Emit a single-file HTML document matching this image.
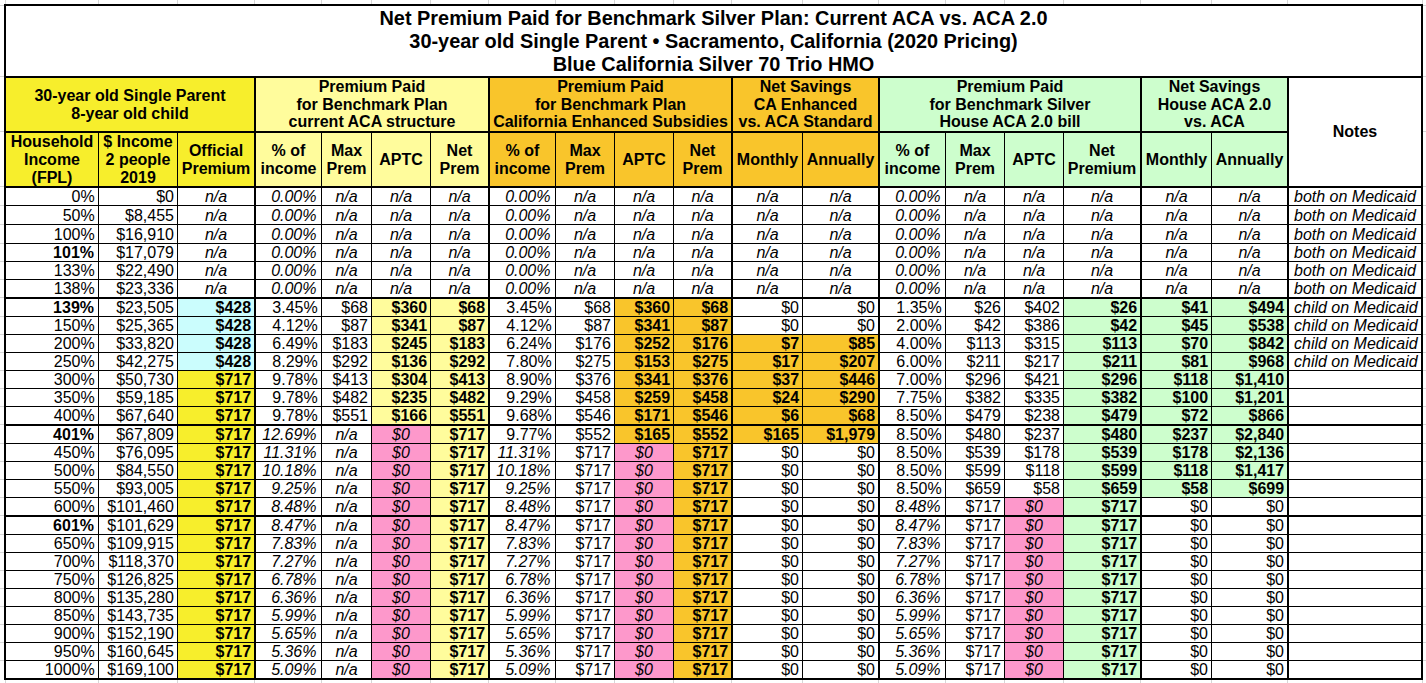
<!DOCTYPE html><html><head><meta charset="utf-8"><title>Net Premium Paid for Benchmark Silver Plan</title><style>
html,body{margin:0;padding:0;background:#fff;}
body{width:1426px;height:683px;overflow:hidden;position:relative;font-family:"Liberation Sans", Arial, sans-serif;color:#000;}
.a{position:absolute;}
.l{position:absolute;background:#000;}
.g{position:absolute;background:#d6d6d6;}
.t{position:absolute;white-space:nowrap;font-size:16px;line-height:18px;height:18px;}
.b{font-weight:bold;}.i{font-style:italic;}
.h{position:absolute;font-weight:bold;font-size:16px;line-height:18px;text-align:center;white-space:nowrap;display:flex;flex-direction:column;justify-content:center;}
</style></head><body>
<div class="g" style="left:5px;top:0;width:1px;height:4px"></div>
<div class="g" style="left:5px;top:680px;width:1px;height:3px"></div>
<div class="g" style="left:98px;top:0;width:1px;height:4px"></div>
<div class="g" style="left:98px;top:680px;width:1px;height:3px"></div>
<div class="g" style="left:177px;top:0;width:1px;height:4px"></div>
<div class="g" style="left:177px;top:680px;width:1px;height:3px"></div>
<div class="g" style="left:254px;top:0;width:1px;height:4px"></div>
<div class="g" style="left:254px;top:680px;width:1px;height:3px"></div>
<div class="g" style="left:321px;top:0;width:1px;height:4px"></div>
<div class="g" style="left:321px;top:680px;width:1px;height:3px"></div>
<div class="g" style="left:371px;top:0;width:1px;height:4px"></div>
<div class="g" style="left:371px;top:680px;width:1px;height:3px"></div>
<div class="g" style="left:430px;top:0;width:1px;height:4px"></div>
<div class="g" style="left:430px;top:680px;width:1px;height:3px"></div>
<div class="g" style="left:488px;top:0;width:1px;height:4px"></div>
<div class="g" style="left:488px;top:680px;width:1px;height:3px"></div>
<div class="g" style="left:555px;top:0;width:1px;height:4px"></div>
<div class="g" style="left:555px;top:680px;width:1px;height:3px"></div>
<div class="g" style="left:614px;top:0;width:1px;height:4px"></div>
<div class="g" style="left:614px;top:680px;width:1px;height:3px"></div>
<div class="g" style="left:673px;top:0;width:1px;height:4px"></div>
<div class="g" style="left:673px;top:680px;width:1px;height:3px"></div>
<div class="g" style="left:731px;top:0;width:1px;height:4px"></div>
<div class="g" style="left:731px;top:680px;width:1px;height:3px"></div>
<div class="g" style="left:802px;top:0;width:1px;height:4px"></div>
<div class="g" style="left:802px;top:680px;width:1px;height:3px"></div>
<div class="g" style="left:878px;top:0;width:1px;height:4px"></div>
<div class="g" style="left:878px;top:680px;width:1px;height:3px"></div>
<div class="g" style="left:945px;top:0;width:1px;height:4px"></div>
<div class="g" style="left:945px;top:680px;width:1px;height:3px"></div>
<div class="g" style="left:1004px;top:0;width:1px;height:4px"></div>
<div class="g" style="left:1004px;top:680px;width:1px;height:3px"></div>
<div class="g" style="left:1063px;top:0;width:1px;height:4px"></div>
<div class="g" style="left:1063px;top:680px;width:1px;height:3px"></div>
<div class="g" style="left:1140px;top:0;width:1px;height:4px"></div>
<div class="g" style="left:1140px;top:680px;width:1px;height:3px"></div>
<div class="g" style="left:1211px;top:0;width:1px;height:4px"></div>
<div class="g" style="left:1211px;top:680px;width:1px;height:3px"></div>
<div class="g" style="left:1287px;top:0;width:1px;height:4px"></div>
<div class="g" style="left:1287px;top:680px;width:1px;height:3px"></div>
<div class="g" style="left:1422px;top:0;width:1px;height:4px"></div>
<div class="g" style="left:1422px;top:680px;width:1px;height:3px"></div>
<div class="g" style="left:0;top:5px;width:4px;height:1px"></div>
<div class="g" style="left:1423px;top:5px;width:3px;height:1px"></div>
<div class="g" style="left:0;top:76px;width:4px;height:1px"></div>
<div class="g" style="left:1423px;top:76px;width:3px;height:1px"></div>
<div class="g" style="left:0;top:131px;width:4px;height:1px"></div>
<div class="g" style="left:1423px;top:131px;width:3px;height:1px"></div>
<div class="g" style="left:0;top:186px;width:4px;height:1px"></div>
<div class="g" style="left:1423px;top:186px;width:3px;height:1px"></div>
<div class="g" style="left:0;top:205px;width:4px;height:1px"></div>
<div class="g" style="left:1423px;top:205px;width:3px;height:1px"></div>
<div class="g" style="left:0;top:224px;width:4px;height:1px"></div>
<div class="g" style="left:1423px;top:224px;width:3px;height:1px"></div>
<div class="g" style="left:0;top:243px;width:4px;height:1px"></div>
<div class="g" style="left:1423px;top:243px;width:3px;height:1px"></div>
<div class="g" style="left:0;top:261px;width:4px;height:1px"></div>
<div class="g" style="left:1423px;top:261px;width:3px;height:1px"></div>
<div class="g" style="left:0;top:279px;width:4px;height:1px"></div>
<div class="g" style="left:1423px;top:279px;width:3px;height:1px"></div>
<div class="g" style="left:0;top:297px;width:4px;height:1px"></div>
<div class="g" style="left:1423px;top:297px;width:3px;height:1px"></div>
<div class="g" style="left:0;top:316px;width:4px;height:1px"></div>
<div class="g" style="left:1423px;top:316px;width:3px;height:1px"></div>
<div class="g" style="left:0;top:334px;width:4px;height:1px"></div>
<div class="g" style="left:1423px;top:334px;width:3px;height:1px"></div>
<div class="g" style="left:0;top:352px;width:4px;height:1px"></div>
<div class="g" style="left:1423px;top:352px;width:3px;height:1px"></div>
<div class="g" style="left:0;top:370px;width:4px;height:1px"></div>
<div class="g" style="left:1423px;top:370px;width:3px;height:1px"></div>
<div class="g" style="left:0;top:388px;width:4px;height:1px"></div>
<div class="g" style="left:1423px;top:388px;width:3px;height:1px"></div>
<div class="g" style="left:0;top:406px;width:4px;height:1px"></div>
<div class="g" style="left:1423px;top:406px;width:3px;height:1px"></div>
<div class="g" style="left:0;top:424px;width:4px;height:1px"></div>
<div class="g" style="left:1423px;top:424px;width:3px;height:1px"></div>
<div class="g" style="left:0;top:443px;width:4px;height:1px"></div>
<div class="g" style="left:1423px;top:443px;width:3px;height:1px"></div>
<div class="g" style="left:0;top:461px;width:4px;height:1px"></div>
<div class="g" style="left:1423px;top:461px;width:3px;height:1px"></div>
<div class="g" style="left:0;top:479px;width:4px;height:1px"></div>
<div class="g" style="left:1423px;top:479px;width:3px;height:1px"></div>
<div class="g" style="left:0;top:497px;width:4px;height:1px"></div>
<div class="g" style="left:1423px;top:497px;width:3px;height:1px"></div>
<div class="g" style="left:0;top:515px;width:4px;height:1px"></div>
<div class="g" style="left:1423px;top:515px;width:3px;height:1px"></div>
<div class="g" style="left:0;top:534px;width:4px;height:1px"></div>
<div class="g" style="left:1423px;top:534px;width:3px;height:1px"></div>
<div class="g" style="left:0;top:552px;width:4px;height:1px"></div>
<div class="g" style="left:1423px;top:552px;width:3px;height:1px"></div>
<div class="g" style="left:0;top:570px;width:4px;height:1px"></div>
<div class="g" style="left:1423px;top:570px;width:3px;height:1px"></div>
<div class="g" style="left:0;top:588px;width:4px;height:1px"></div>
<div class="g" style="left:1423px;top:588px;width:3px;height:1px"></div>
<div class="g" style="left:0;top:606px;width:4px;height:1px"></div>
<div class="g" style="left:1423px;top:606px;width:3px;height:1px"></div>
<div class="g" style="left:0;top:624px;width:4px;height:1px"></div>
<div class="g" style="left:1423px;top:624px;width:3px;height:1px"></div>
<div class="g" style="left:0;top:642px;width:4px;height:1px"></div>
<div class="g" style="left:1423px;top:642px;width:3px;height:1px"></div>
<div class="g" style="left:0;top:660px;width:4px;height:1px"></div>
<div class="g" style="left:1423px;top:660px;width:3px;height:1px"></div>
<div class="a" style="left:6px;top:78px;width:248px;height:53px;background:#f7ee2c"></div>
<div class="h" style="left:6px;top:78px;width:248px;height:53px;line-height:17.6px">30-year old Single Parent<br>8-year old child</div>
<div class="a" style="left:256px;top:78px;width:232px;height:53px;background:#fffc9c"></div>
<div class="h" style="left:256px;top:78px;width:232px;height:53px;line-height:17.6px">Premium Paid<br>for Benchmark Plan<br>current ACA structure</div>
<div class="a" style="left:490px;top:78px;width:241px;height:53px;background:#f9c52b"></div>
<div class="h" style="left:490px;top:78px;width:241px;height:53px;line-height:17.6px">Premium Paid<br>for Benchmark Plan<br>California Enhanced Subsidies</div>
<div class="a" style="left:733px;top:78px;width:145px;height:53px;background:#f9c52b"></div>
<div class="h" style="left:733px;top:78px;width:145px;height:53px;line-height:17.6px">Net Savings<br>CA Enhanced<br>vs. ACA Standard</div>
<div class="a" style="left:880px;top:78px;width:260px;height:53px;background:#cdfecd"></div>
<div class="h" style="left:880px;top:78px;width:260px;height:53px;line-height:17.6px">Premium Paid<br>for Benchmark Silver<br>House ACA 2.0 bill</div>
<div class="a" style="left:1142px;top:78px;width:145px;height:53px;background:#cdfecd"></div>
<div class="h" style="left:1142px;top:78px;width:145px;height:53px;line-height:17.6px">Net Savings<br>House ACA 2.0<br>vs. ACA</div>
<div class="a" style="left:6px;top:133px;width:92px;height:53px;background:#f7ee2c"></div>
<div class="h" style="left:6px;top:133px;width:92px;height:53px">Household<br>Income<br>(FPL)</div>
<div class="a" style="left:99px;top:133px;width:78px;height:53px;background:#f7ee2c"></div>
<div class="h" style="left:99px;top:133px;width:78px;height:53px">$ Income<br>2 people<br>2019</div>
<div class="a" style="left:178px;top:133px;width:76px;height:53px;background:#f7ee2c"></div>
<div class="h" style="left:178px;top:133px;width:76px;height:53px">Official<br>Premium</div>
<div class="a" style="left:256px;top:133px;width:65px;height:53px;background:#fffc9c"></div>
<div class="h" style="left:256px;top:133px;width:65px;height:53px">% of<br>income</div>
<div class="a" style="left:322px;top:133px;width:49px;height:53px;background:#fffc9c"></div>
<div class="h" style="left:322px;top:133px;width:49px;height:53px">Max<br>Prem</div>
<div class="a" style="left:372px;top:133px;width:58px;height:53px;background:#fffc9c"></div>
<div class="h" style="left:372px;top:133px;width:58px;height:53px">APTC</div>
<div class="a" style="left:431px;top:133px;width:57px;height:53px;background:#fffc9c"></div>
<div class="h" style="left:431px;top:133px;width:57px;height:53px">Net<br>Prem</div>
<div class="a" style="left:490px;top:133px;width:65px;height:53px;background:#f9c52b"></div>
<div class="h" style="left:490px;top:133px;width:65px;height:53px">% of<br>income</div>
<div class="a" style="left:556px;top:133px;width:58px;height:53px;background:#f9c52b"></div>
<div class="h" style="left:556px;top:133px;width:58px;height:53px">Max<br>Prem</div>
<div class="a" style="left:615px;top:133px;width:58px;height:53px;background:#f9c52b"></div>
<div class="h" style="left:615px;top:133px;width:58px;height:53px">APTC</div>
<div class="a" style="left:674px;top:133px;width:57px;height:53px;background:#f9c52b"></div>
<div class="h" style="left:674px;top:133px;width:57px;height:53px">Net<br>Prem</div>
<div class="a" style="left:733px;top:133px;width:69px;height:53px;background:#f9c52b"></div>
<div class="h" style="left:733px;top:133px;width:69px;height:53px">Monthly</div>
<div class="a" style="left:803px;top:133px;width:75px;height:53px;background:#f9c52b"></div>
<div class="h" style="left:803px;top:133px;width:75px;height:53px">Annually</div>
<div class="a" style="left:880px;top:133px;width:65px;height:53px;background:#cdfecd"></div>
<div class="h" style="left:880px;top:133px;width:65px;height:53px">% of<br>income</div>
<div class="a" style="left:946px;top:133px;width:58px;height:53px;background:#cdfecd"></div>
<div class="h" style="left:946px;top:133px;width:58px;height:53px">Max<br>Prem</div>
<div class="a" style="left:1005px;top:133px;width:58px;height:53px;background:#cdfecd"></div>
<div class="h" style="left:1005px;top:133px;width:58px;height:53px">APTC</div>
<div class="a" style="left:1064px;top:133px;width:76px;height:53px;background:#cdfecd"></div>
<div class="h" style="left:1064px;top:133px;width:76px;height:53px">Net<br>Premium</div>
<div class="a" style="left:1142px;top:133px;width:69px;height:53px;background:#cdfecd"></div>
<div class="h" style="left:1142px;top:133px;width:69px;height:53px">Monthly</div>
<div class="a" style="left:1212px;top:133px;width:75px;height:53px;background:#cdfecd"></div>
<div class="h" style="left:1212px;top:133px;width:75px;height:53px">Annually</div>
<div class="h" style="left:1289px;top:78px;width:132px;height:108px">Notes</div>
<div class="a" style="left:6px;top:6px;width:1415px;height:70px;font-weight:bold;font-size:19.9px;line-height:23px;text-align:center;white-space:nowrap;display:flex;flex-direction:column;justify-content:center"><div>Net Premium Paid for Benchmark Silver Plan: Current ACA vs. ACA 2.0</div><div>30-year old Single Parent &bull; Sacramento, California (2020 Pricing)</div><div>Blue California Silver 70 Trio HMO</div></div>
<div class="t" style="left:6px;top:188.0px;width:88.7px;text-align:right">0%</div>
<div class="t" style="left:99px;top:188.0px;width:75.0px;text-align:right">$0</div>
<div class="t i" style="left:178px;top:188.0px;width:76px;text-align:center">n/a</div>
<div class="t i" style="left:256px;top:188.0px;width:60.5px;text-align:right">0.00%</div>
<div class="t i" style="left:322px;top:188.0px;width:49px;text-align:center">n/a</div>
<div class="t i" style="left:372px;top:188.0px;width:58px;text-align:center">n/a</div>
<div class="t i" style="left:431px;top:188.0px;width:57px;text-align:center">n/a</div>
<div class="t i" style="left:490px;top:188.0px;width:60.5px;text-align:right">0.00%</div>
<div class="t i" style="left:556px;top:188.0px;width:58px;text-align:center">n/a</div>
<div class="t i" style="left:615px;top:188.0px;width:58px;text-align:center">n/a</div>
<div class="t i" style="left:674px;top:188.0px;width:57px;text-align:center">n/a</div>
<div class="t i" style="left:733px;top:188.0px;width:69px;text-align:center">n/a</div>
<div class="t i" style="left:803px;top:188.0px;width:75px;text-align:center">n/a</div>
<div class="t i" style="left:880px;top:188.0px;width:60.5px;text-align:right">0.00%</div>
<div class="t i" style="left:946px;top:188.0px;width:58px;text-align:center">n/a</div>
<div class="t i" style="left:1005px;top:188.0px;width:58px;text-align:center">n/a</div>
<div class="t i" style="left:1064px;top:188.0px;width:76px;text-align:center">n/a</div>
<div class="t i" style="left:1142px;top:188.0px;width:69px;text-align:center">n/a</div>
<div class="t i" style="left:1212px;top:188.0px;width:75px;text-align:center">n/a</div>
<div class="t i" style="left:1294px;top:188.0px;text-align:left">both on Medicaid</div>
<div class="t" style="left:6px;top:207.0px;width:88.7px;text-align:right">50%</div>
<div class="t" style="left:99px;top:207.0px;width:75.0px;text-align:right">$8,455</div>
<div class="t i" style="left:178px;top:207.0px;width:76px;text-align:center">n/a</div>
<div class="t i" style="left:256px;top:207.0px;width:60.5px;text-align:right">0.00%</div>
<div class="t i" style="left:322px;top:207.0px;width:49px;text-align:center">n/a</div>
<div class="t i" style="left:372px;top:207.0px;width:58px;text-align:center">n/a</div>
<div class="t i" style="left:431px;top:207.0px;width:57px;text-align:center">n/a</div>
<div class="t i" style="left:490px;top:207.0px;width:60.5px;text-align:right">0.00%</div>
<div class="t i" style="left:556px;top:207.0px;width:58px;text-align:center">n/a</div>
<div class="t i" style="left:615px;top:207.0px;width:58px;text-align:center">n/a</div>
<div class="t i" style="left:674px;top:207.0px;width:57px;text-align:center">n/a</div>
<div class="t i" style="left:733px;top:207.0px;width:69px;text-align:center">n/a</div>
<div class="t i" style="left:803px;top:207.0px;width:75px;text-align:center">n/a</div>
<div class="t i" style="left:880px;top:207.0px;width:60.5px;text-align:right">0.00%</div>
<div class="t i" style="left:946px;top:207.0px;width:58px;text-align:center">n/a</div>
<div class="t i" style="left:1005px;top:207.0px;width:58px;text-align:center">n/a</div>
<div class="t i" style="left:1064px;top:207.0px;width:76px;text-align:center">n/a</div>
<div class="t i" style="left:1142px;top:207.0px;width:69px;text-align:center">n/a</div>
<div class="t i" style="left:1212px;top:207.0px;width:75px;text-align:center">n/a</div>
<div class="t i" style="left:1294px;top:207.0px;text-align:left">both on Medicaid</div>
<div class="t" style="left:6px;top:226.0px;width:88.7px;text-align:right">100%</div>
<div class="t" style="left:99px;top:226.0px;width:75.0px;text-align:right">$16,910</div>
<div class="t i" style="left:178px;top:226.0px;width:76px;text-align:center">n/a</div>
<div class="t i" style="left:256px;top:226.0px;width:60.5px;text-align:right">0.00%</div>
<div class="t i" style="left:322px;top:226.0px;width:49px;text-align:center">n/a</div>
<div class="t i" style="left:372px;top:226.0px;width:58px;text-align:center">n/a</div>
<div class="t i" style="left:431px;top:226.0px;width:57px;text-align:center">n/a</div>
<div class="t i" style="left:490px;top:226.0px;width:60.5px;text-align:right">0.00%</div>
<div class="t i" style="left:556px;top:226.0px;width:58px;text-align:center">n/a</div>
<div class="t i" style="left:615px;top:226.0px;width:58px;text-align:center">n/a</div>
<div class="t i" style="left:674px;top:226.0px;width:57px;text-align:center">n/a</div>
<div class="t i" style="left:733px;top:226.0px;width:69px;text-align:center">n/a</div>
<div class="t i" style="left:803px;top:226.0px;width:75px;text-align:center">n/a</div>
<div class="t i" style="left:880px;top:226.0px;width:60.5px;text-align:right">0.00%</div>
<div class="t i" style="left:946px;top:226.0px;width:58px;text-align:center">n/a</div>
<div class="t i" style="left:1005px;top:226.0px;width:58px;text-align:center">n/a</div>
<div class="t i" style="left:1064px;top:226.0px;width:76px;text-align:center">n/a</div>
<div class="t i" style="left:1142px;top:226.0px;width:69px;text-align:center">n/a</div>
<div class="t i" style="left:1212px;top:226.0px;width:75px;text-align:center">n/a</div>
<div class="t i" style="left:1294px;top:226.0px;text-align:left">both on Medicaid</div>
<div class="t b" style="left:6px;top:244.0px;width:88.0px;text-align:right">101%</div>
<div class="t" style="left:99px;top:244.0px;width:75.0px;text-align:right">$17,079</div>
<div class="t i" style="left:178px;top:244.0px;width:76px;text-align:center">n/a</div>
<div class="t i" style="left:256px;top:244.0px;width:60.5px;text-align:right">0.00%</div>
<div class="t i" style="left:322px;top:244.0px;width:49px;text-align:center">n/a</div>
<div class="t i" style="left:372px;top:244.0px;width:58px;text-align:center">n/a</div>
<div class="t i" style="left:431px;top:244.0px;width:57px;text-align:center">n/a</div>
<div class="t i" style="left:490px;top:244.0px;width:60.5px;text-align:right">0.00%</div>
<div class="t i" style="left:556px;top:244.0px;width:58px;text-align:center">n/a</div>
<div class="t i" style="left:615px;top:244.0px;width:58px;text-align:center">n/a</div>
<div class="t i" style="left:674px;top:244.0px;width:57px;text-align:center">n/a</div>
<div class="t i" style="left:733px;top:244.0px;width:69px;text-align:center">n/a</div>
<div class="t i" style="left:803px;top:244.0px;width:75px;text-align:center">n/a</div>
<div class="t i" style="left:880px;top:244.0px;width:60.5px;text-align:right">0.00%</div>
<div class="t i" style="left:946px;top:244.0px;width:58px;text-align:center">n/a</div>
<div class="t i" style="left:1005px;top:244.0px;width:58px;text-align:center">n/a</div>
<div class="t i" style="left:1064px;top:244.0px;width:76px;text-align:center">n/a</div>
<div class="t i" style="left:1142px;top:244.0px;width:69px;text-align:center">n/a</div>
<div class="t i" style="left:1212px;top:244.0px;width:75px;text-align:center">n/a</div>
<div class="t i" style="left:1294px;top:244.0px;text-align:left">both on Medicaid</div>
<div class="t" style="left:6px;top:262.0px;width:88.7px;text-align:right">133%</div>
<div class="t" style="left:99px;top:262.0px;width:75.0px;text-align:right">$22,490</div>
<div class="t i" style="left:178px;top:262.0px;width:76px;text-align:center">n/a</div>
<div class="t i" style="left:256px;top:262.0px;width:60.5px;text-align:right">0.00%</div>
<div class="t i" style="left:322px;top:262.0px;width:49px;text-align:center">n/a</div>
<div class="t i" style="left:372px;top:262.0px;width:58px;text-align:center">n/a</div>
<div class="t i" style="left:431px;top:262.0px;width:57px;text-align:center">n/a</div>
<div class="t i" style="left:490px;top:262.0px;width:60.5px;text-align:right">0.00%</div>
<div class="t i" style="left:556px;top:262.0px;width:58px;text-align:center">n/a</div>
<div class="t i" style="left:615px;top:262.0px;width:58px;text-align:center">n/a</div>
<div class="t i" style="left:674px;top:262.0px;width:57px;text-align:center">n/a</div>
<div class="t i" style="left:733px;top:262.0px;width:69px;text-align:center">n/a</div>
<div class="t i" style="left:803px;top:262.0px;width:75px;text-align:center">n/a</div>
<div class="t i" style="left:880px;top:262.0px;width:60.5px;text-align:right">0.00%</div>
<div class="t i" style="left:946px;top:262.0px;width:58px;text-align:center">n/a</div>
<div class="t i" style="left:1005px;top:262.0px;width:58px;text-align:center">n/a</div>
<div class="t i" style="left:1064px;top:262.0px;width:76px;text-align:center">n/a</div>
<div class="t i" style="left:1142px;top:262.0px;width:69px;text-align:center">n/a</div>
<div class="t i" style="left:1212px;top:262.0px;width:75px;text-align:center">n/a</div>
<div class="t i" style="left:1294px;top:262.0px;text-align:left">both on Medicaid</div>
<div class="t" style="left:6px;top:280.0px;width:88.7px;text-align:right">138%</div>
<div class="t" style="left:99px;top:280.0px;width:75.0px;text-align:right">$23,336</div>
<div class="t i" style="left:178px;top:280.0px;width:76px;text-align:center">n/a</div>
<div class="t i" style="left:256px;top:280.0px;width:60.5px;text-align:right">0.00%</div>
<div class="t i" style="left:322px;top:280.0px;width:49px;text-align:center">n/a</div>
<div class="t i" style="left:372px;top:280.0px;width:58px;text-align:center">n/a</div>
<div class="t i" style="left:431px;top:280.0px;width:57px;text-align:center">n/a</div>
<div class="t i" style="left:490px;top:280.0px;width:60.5px;text-align:right">0.00%</div>
<div class="t i" style="left:556px;top:280.0px;width:58px;text-align:center">n/a</div>
<div class="t i" style="left:615px;top:280.0px;width:58px;text-align:center">n/a</div>
<div class="t i" style="left:674px;top:280.0px;width:57px;text-align:center">n/a</div>
<div class="t i" style="left:733px;top:280.0px;width:69px;text-align:center">n/a</div>
<div class="t i" style="left:803px;top:280.0px;width:75px;text-align:center">n/a</div>
<div class="t i" style="left:880px;top:280.0px;width:60.5px;text-align:right">0.00%</div>
<div class="t i" style="left:946px;top:280.0px;width:58px;text-align:center">n/a</div>
<div class="t i" style="left:1005px;top:280.0px;width:58px;text-align:center">n/a</div>
<div class="t i" style="left:1064px;top:280.0px;width:76px;text-align:center">n/a</div>
<div class="t i" style="left:1142px;top:280.0px;width:69px;text-align:center">n/a</div>
<div class="t i" style="left:1212px;top:280.0px;width:75px;text-align:center">n/a</div>
<div class="t i" style="left:1294px;top:280.0px;text-align:left">both on Medicaid</div>
<div class="t b" style="left:6px;top:299.0px;width:88.0px;text-align:right">139%</div>
<div class="t" style="left:99px;top:299.0px;width:75.0px;text-align:right">$23,505</div>
<div class="a" style="left:178px;top:299px;width:76px;height:17px;background:#cbfdfd"></div>
<div class="t b" style="left:178px;top:299.0px;width:73.1px;text-align:right">$428</div>
<div class="t" style="left:256px;top:299.0px;width:61.7px;text-align:right">3.45%</div>
<div class="t" style="left:322px;top:299.0px;width:46.0px;text-align:right">$68</div>
<div class="a" style="left:372px;top:299px;width:58px;height:17px;background:#fffc9c"></div>
<div class="t b" style="left:372px;top:299.0px;width:55.1px;text-align:right">$360</div>
<div class="a" style="left:431px;top:299px;width:57px;height:17px;background:#fffc9c"></div>
<div class="t b" style="left:431px;top:299.0px;width:54.1px;text-align:right">$68</div>
<div class="t" style="left:490px;top:299.0px;width:61.7px;text-align:right">3.45%</div>
<div class="t" style="left:556px;top:299.0px;width:55.0px;text-align:right">$68</div>
<div class="a" style="left:615px;top:299px;width:58px;height:17px;background:#f9c52b"></div>
<div class="t b" style="left:615px;top:299.0px;width:55.1px;text-align:right">$360</div>
<div class="a" style="left:674px;top:299px;width:57px;height:17px;background:#f9c52b"></div>
<div class="t b" style="left:674px;top:299.0px;width:54.1px;text-align:right">$68</div>
<div class="t" style="left:733px;top:299.0px;width:66.0px;text-align:right">$0</div>
<div class="t" style="left:803px;top:299.0px;width:72.0px;text-align:right">$0</div>
<div class="t" style="left:880px;top:299.0px;width:61.7px;text-align:right">1.35%</div>
<div class="t" style="left:946px;top:299.0px;width:55.0px;text-align:right">$26</div>
<div class="t" style="left:1005px;top:299.0px;width:55.0px;text-align:right">$402</div>
<div class="a" style="left:1064px;top:299px;width:76px;height:17px;background:#cdfecd"></div>
<div class="t b" style="left:1064px;top:299.0px;width:73.1px;text-align:right">$26</div>
<div class="a" style="left:1142px;top:299px;width:69px;height:17px;background:#cdfecd"></div>
<div class="t b" style="left:1142px;top:299.0px;width:66.1px;text-align:right">$41</div>
<div class="a" style="left:1212px;top:299px;width:75px;height:17px;background:#cdfecd"></div>
<div class="t b" style="left:1212px;top:299.0px;width:72.1px;text-align:right">$494</div>
<div class="t i" style="left:1294px;top:299.0px;text-align:left">child on Medicaid</div>
<div class="t" style="left:6px;top:317.0px;width:88.7px;text-align:right">150%</div>
<div class="t" style="left:99px;top:317.0px;width:75.0px;text-align:right">$25,365</div>
<div class="a" style="left:178px;top:317px;width:76px;height:17px;background:#cbfdfd"></div>
<div class="t b" style="left:178px;top:317.0px;width:73.1px;text-align:right">$428</div>
<div class="t" style="left:256px;top:317.0px;width:61.7px;text-align:right">4.12%</div>
<div class="t" style="left:322px;top:317.0px;width:46.0px;text-align:right">$87</div>
<div class="a" style="left:372px;top:317px;width:58px;height:17px;background:#fffc9c"></div>
<div class="t b" style="left:372px;top:317.0px;width:55.1px;text-align:right">$341</div>
<div class="a" style="left:431px;top:317px;width:57px;height:17px;background:#fffc9c"></div>
<div class="t b" style="left:431px;top:317.0px;width:54.1px;text-align:right">$87</div>
<div class="t" style="left:490px;top:317.0px;width:61.7px;text-align:right">4.12%</div>
<div class="t" style="left:556px;top:317.0px;width:55.0px;text-align:right">$87</div>
<div class="a" style="left:615px;top:317px;width:58px;height:17px;background:#f9c52b"></div>
<div class="t b" style="left:615px;top:317.0px;width:55.1px;text-align:right">$341</div>
<div class="a" style="left:674px;top:317px;width:57px;height:17px;background:#f9c52b"></div>
<div class="t b" style="left:674px;top:317.0px;width:54.1px;text-align:right">$87</div>
<div class="t" style="left:733px;top:317.0px;width:66.0px;text-align:right">$0</div>
<div class="t" style="left:803px;top:317.0px;width:72.0px;text-align:right">$0</div>
<div class="t" style="left:880px;top:317.0px;width:61.7px;text-align:right">2.00%</div>
<div class="t" style="left:946px;top:317.0px;width:55.0px;text-align:right">$42</div>
<div class="t" style="left:1005px;top:317.0px;width:55.0px;text-align:right">$386</div>
<div class="a" style="left:1064px;top:317px;width:76px;height:17px;background:#cdfecd"></div>
<div class="t b" style="left:1064px;top:317.0px;width:73.1px;text-align:right">$42</div>
<div class="a" style="left:1142px;top:317px;width:69px;height:17px;background:#cdfecd"></div>
<div class="t b" style="left:1142px;top:317.0px;width:66.1px;text-align:right">$45</div>
<div class="a" style="left:1212px;top:317px;width:75px;height:17px;background:#cdfecd"></div>
<div class="t b" style="left:1212px;top:317.0px;width:72.1px;text-align:right">$538</div>
<div class="t i" style="left:1294px;top:317.0px;text-align:left">child on Medicaid</div>
<div class="t" style="left:6px;top:335.0px;width:88.7px;text-align:right">200%</div>
<div class="t" style="left:99px;top:335.0px;width:75.0px;text-align:right">$33,820</div>
<div class="a" style="left:178px;top:335px;width:76px;height:17px;background:#cbfdfd"></div>
<div class="t b" style="left:178px;top:335.0px;width:73.1px;text-align:right">$428</div>
<div class="t" style="left:256px;top:335.0px;width:61.7px;text-align:right">6.49%</div>
<div class="t" style="left:322px;top:335.0px;width:46.0px;text-align:right">$183</div>
<div class="a" style="left:372px;top:335px;width:58px;height:17px;background:#fffc9c"></div>
<div class="t b" style="left:372px;top:335.0px;width:55.1px;text-align:right">$245</div>
<div class="a" style="left:431px;top:335px;width:57px;height:17px;background:#fffc9c"></div>
<div class="t b" style="left:431px;top:335.0px;width:54.1px;text-align:right">$183</div>
<div class="t" style="left:490px;top:335.0px;width:61.7px;text-align:right">6.24%</div>
<div class="t" style="left:556px;top:335.0px;width:55.0px;text-align:right">$176</div>
<div class="a" style="left:615px;top:335px;width:58px;height:17px;background:#f9c52b"></div>
<div class="t b" style="left:615px;top:335.0px;width:55.1px;text-align:right">$252</div>
<div class="a" style="left:674px;top:335px;width:57px;height:17px;background:#f9c52b"></div>
<div class="t b" style="left:674px;top:335.0px;width:54.1px;text-align:right">$176</div>
<div class="a" style="left:733px;top:335px;width:69px;height:17px;background:#f9c52b"></div>
<div class="t b" style="left:733px;top:335.0px;width:66.1px;text-align:right">$7</div>
<div class="a" style="left:803px;top:335px;width:75px;height:17px;background:#f9c52b"></div>
<div class="t b" style="left:803px;top:335.0px;width:72.1px;text-align:right">$85</div>
<div class="t" style="left:880px;top:335.0px;width:61.7px;text-align:right">4.00%</div>
<div class="t" style="left:946px;top:335.0px;width:55.0px;text-align:right">$113</div>
<div class="t" style="left:1005px;top:335.0px;width:55.0px;text-align:right">$315</div>
<div class="a" style="left:1064px;top:335px;width:76px;height:17px;background:#cdfecd"></div>
<div class="t b" style="left:1064px;top:335.0px;width:73.1px;text-align:right">$113</div>
<div class="a" style="left:1142px;top:335px;width:69px;height:17px;background:#cdfecd"></div>
<div class="t b" style="left:1142px;top:335.0px;width:66.1px;text-align:right">$70</div>
<div class="a" style="left:1212px;top:335px;width:75px;height:17px;background:#cdfecd"></div>
<div class="t b" style="left:1212px;top:335.0px;width:72.1px;text-align:right">$842</div>
<div class="t i" style="left:1294px;top:335.0px;text-align:left">child on Medicaid</div>
<div class="t" style="left:6px;top:353.0px;width:88.7px;text-align:right">250%</div>
<div class="t" style="left:99px;top:353.0px;width:75.0px;text-align:right">$42,275</div>
<div class="a" style="left:178px;top:353px;width:76px;height:17px;background:#cbfdfd"></div>
<div class="t b" style="left:178px;top:353.0px;width:73.1px;text-align:right">$428</div>
<div class="t" style="left:256px;top:353.0px;width:61.7px;text-align:right">8.29%</div>
<div class="t" style="left:322px;top:353.0px;width:46.0px;text-align:right">$292</div>
<div class="a" style="left:372px;top:353px;width:58px;height:17px;background:#fffc9c"></div>
<div class="t b" style="left:372px;top:353.0px;width:55.1px;text-align:right">$136</div>
<div class="a" style="left:431px;top:353px;width:57px;height:17px;background:#fffc9c"></div>
<div class="t b" style="left:431px;top:353.0px;width:54.1px;text-align:right">$292</div>
<div class="t" style="left:490px;top:353.0px;width:61.7px;text-align:right">7.80%</div>
<div class="t" style="left:556px;top:353.0px;width:55.0px;text-align:right">$275</div>
<div class="a" style="left:615px;top:353px;width:58px;height:17px;background:#f9c52b"></div>
<div class="t b" style="left:615px;top:353.0px;width:55.1px;text-align:right">$153</div>
<div class="a" style="left:674px;top:353px;width:57px;height:17px;background:#f9c52b"></div>
<div class="t b" style="left:674px;top:353.0px;width:54.1px;text-align:right">$275</div>
<div class="a" style="left:733px;top:353px;width:69px;height:17px;background:#f9c52b"></div>
<div class="t b" style="left:733px;top:353.0px;width:66.1px;text-align:right">$17</div>
<div class="a" style="left:803px;top:353px;width:75px;height:17px;background:#f9c52b"></div>
<div class="t b" style="left:803px;top:353.0px;width:72.1px;text-align:right">$207</div>
<div class="t" style="left:880px;top:353.0px;width:61.7px;text-align:right">6.00%</div>
<div class="t" style="left:946px;top:353.0px;width:55.0px;text-align:right">$211</div>
<div class="t" style="left:1005px;top:353.0px;width:55.0px;text-align:right">$217</div>
<div class="a" style="left:1064px;top:353px;width:76px;height:17px;background:#cdfecd"></div>
<div class="t b" style="left:1064px;top:353.0px;width:73.1px;text-align:right">$211</div>
<div class="a" style="left:1142px;top:353px;width:69px;height:17px;background:#cdfecd"></div>
<div class="t b" style="left:1142px;top:353.0px;width:66.1px;text-align:right">$81</div>
<div class="a" style="left:1212px;top:353px;width:75px;height:17px;background:#cdfecd"></div>
<div class="t b" style="left:1212px;top:353.0px;width:72.1px;text-align:right">$968</div>
<div class="t i" style="left:1294px;top:353.0px;text-align:left">child on Medicaid</div>
<div class="t" style="left:6px;top:371.0px;width:88.7px;text-align:right">300%</div>
<div class="t" style="left:99px;top:371.0px;width:75.0px;text-align:right">$50,730</div>
<div class="a" style="left:178px;top:371px;width:76px;height:17px;background:#f7ee2c"></div>
<div class="t b" style="left:178px;top:371.0px;width:73.1px;text-align:right">$717</div>
<div class="t" style="left:256px;top:371.0px;width:61.7px;text-align:right">9.78%</div>
<div class="t" style="left:322px;top:371.0px;width:46.0px;text-align:right">$413</div>
<div class="a" style="left:372px;top:371px;width:58px;height:17px;background:#fffc9c"></div>
<div class="t b" style="left:372px;top:371.0px;width:55.1px;text-align:right">$304</div>
<div class="a" style="left:431px;top:371px;width:57px;height:17px;background:#fffc9c"></div>
<div class="t b" style="left:431px;top:371.0px;width:54.1px;text-align:right">$413</div>
<div class="t" style="left:490px;top:371.0px;width:61.7px;text-align:right">8.90%</div>
<div class="t" style="left:556px;top:371.0px;width:55.0px;text-align:right">$376</div>
<div class="a" style="left:615px;top:371px;width:58px;height:17px;background:#f9c52b"></div>
<div class="t b" style="left:615px;top:371.0px;width:55.1px;text-align:right">$341</div>
<div class="a" style="left:674px;top:371px;width:57px;height:17px;background:#f9c52b"></div>
<div class="t b" style="left:674px;top:371.0px;width:54.1px;text-align:right">$376</div>
<div class="a" style="left:733px;top:371px;width:69px;height:17px;background:#f9c52b"></div>
<div class="t b" style="left:733px;top:371.0px;width:66.1px;text-align:right">$37</div>
<div class="a" style="left:803px;top:371px;width:75px;height:17px;background:#f9c52b"></div>
<div class="t b" style="left:803px;top:371.0px;width:72.1px;text-align:right">$446</div>
<div class="t" style="left:880px;top:371.0px;width:61.7px;text-align:right">7.00%</div>
<div class="t" style="left:946px;top:371.0px;width:55.0px;text-align:right">$296</div>
<div class="t" style="left:1005px;top:371.0px;width:55.0px;text-align:right">$421</div>
<div class="a" style="left:1064px;top:371px;width:76px;height:17px;background:#cdfecd"></div>
<div class="t b" style="left:1064px;top:371.0px;width:73.1px;text-align:right">$296</div>
<div class="a" style="left:1142px;top:371px;width:69px;height:17px;background:#cdfecd"></div>
<div class="t b" style="left:1142px;top:371.0px;width:66.1px;text-align:right">$118</div>
<div class="a" style="left:1212px;top:371px;width:75px;height:17px;background:#cdfecd"></div>
<div class="t b" style="left:1212px;top:371.0px;width:72.1px;text-align:right">$1,410</div>
<div class="t" style="left:6px;top:389.0px;width:88.7px;text-align:right">350%</div>
<div class="t" style="left:99px;top:389.0px;width:75.0px;text-align:right">$59,185</div>
<div class="a" style="left:178px;top:389px;width:76px;height:17px;background:#f7ee2c"></div>
<div class="t b" style="left:178px;top:389.0px;width:73.1px;text-align:right">$717</div>
<div class="t" style="left:256px;top:389.0px;width:61.7px;text-align:right">9.78%</div>
<div class="t" style="left:322px;top:389.0px;width:46.0px;text-align:right">$482</div>
<div class="a" style="left:372px;top:389px;width:58px;height:17px;background:#fffc9c"></div>
<div class="t b" style="left:372px;top:389.0px;width:55.1px;text-align:right">$235</div>
<div class="a" style="left:431px;top:389px;width:57px;height:17px;background:#fffc9c"></div>
<div class="t b" style="left:431px;top:389.0px;width:54.1px;text-align:right">$482</div>
<div class="t" style="left:490px;top:389.0px;width:61.7px;text-align:right">9.29%</div>
<div class="t" style="left:556px;top:389.0px;width:55.0px;text-align:right">$458</div>
<div class="a" style="left:615px;top:389px;width:58px;height:17px;background:#f9c52b"></div>
<div class="t b" style="left:615px;top:389.0px;width:55.1px;text-align:right">$259</div>
<div class="a" style="left:674px;top:389px;width:57px;height:17px;background:#f9c52b"></div>
<div class="t b" style="left:674px;top:389.0px;width:54.1px;text-align:right">$458</div>
<div class="a" style="left:733px;top:389px;width:69px;height:17px;background:#f9c52b"></div>
<div class="t b" style="left:733px;top:389.0px;width:66.1px;text-align:right">$24</div>
<div class="a" style="left:803px;top:389px;width:75px;height:17px;background:#f9c52b"></div>
<div class="t b" style="left:803px;top:389.0px;width:72.1px;text-align:right">$290</div>
<div class="t" style="left:880px;top:389.0px;width:61.7px;text-align:right">7.75%</div>
<div class="t" style="left:946px;top:389.0px;width:55.0px;text-align:right">$382</div>
<div class="t" style="left:1005px;top:389.0px;width:55.0px;text-align:right">$335</div>
<div class="a" style="left:1064px;top:389px;width:76px;height:17px;background:#cdfecd"></div>
<div class="t b" style="left:1064px;top:389.0px;width:73.1px;text-align:right">$382</div>
<div class="a" style="left:1142px;top:389px;width:69px;height:17px;background:#cdfecd"></div>
<div class="t b" style="left:1142px;top:389.0px;width:66.1px;text-align:right">$100</div>
<div class="a" style="left:1212px;top:389px;width:75px;height:17px;background:#cdfecd"></div>
<div class="t b" style="left:1212px;top:389.0px;width:72.1px;text-align:right">$1,201</div>
<div class="t" style="left:6px;top:407.0px;width:88.7px;text-align:right">400%</div>
<div class="t" style="left:99px;top:407.0px;width:75.0px;text-align:right">$67,640</div>
<div class="a" style="left:178px;top:407px;width:76px;height:17px;background:#f7ee2c"></div>
<div class="t b" style="left:178px;top:407.0px;width:73.1px;text-align:right">$717</div>
<div class="t" style="left:256px;top:407.0px;width:61.7px;text-align:right">9.78%</div>
<div class="t" style="left:322px;top:407.0px;width:46.0px;text-align:right">$551</div>
<div class="a" style="left:372px;top:407px;width:58px;height:17px;background:#fffc9c"></div>
<div class="t b" style="left:372px;top:407.0px;width:55.1px;text-align:right">$166</div>
<div class="a" style="left:431px;top:407px;width:57px;height:17px;background:#fffc9c"></div>
<div class="t b" style="left:431px;top:407.0px;width:54.1px;text-align:right">$551</div>
<div class="t" style="left:490px;top:407.0px;width:61.7px;text-align:right">9.68%</div>
<div class="t" style="left:556px;top:407.0px;width:55.0px;text-align:right">$546</div>
<div class="a" style="left:615px;top:407px;width:58px;height:17px;background:#f9c52b"></div>
<div class="t b" style="left:615px;top:407.0px;width:55.1px;text-align:right">$171</div>
<div class="a" style="left:674px;top:407px;width:57px;height:17px;background:#f9c52b"></div>
<div class="t b" style="left:674px;top:407.0px;width:54.1px;text-align:right">$546</div>
<div class="a" style="left:733px;top:407px;width:69px;height:17px;background:#f9c52b"></div>
<div class="t b" style="left:733px;top:407.0px;width:66.1px;text-align:right">$6</div>
<div class="a" style="left:803px;top:407px;width:75px;height:17px;background:#f9c52b"></div>
<div class="t b" style="left:803px;top:407.0px;width:72.1px;text-align:right">$68</div>
<div class="t" style="left:880px;top:407.0px;width:61.7px;text-align:right">8.50%</div>
<div class="t" style="left:946px;top:407.0px;width:55.0px;text-align:right">$479</div>
<div class="t" style="left:1005px;top:407.0px;width:55.0px;text-align:right">$238</div>
<div class="a" style="left:1064px;top:407px;width:76px;height:17px;background:#cdfecd"></div>
<div class="t b" style="left:1064px;top:407.0px;width:73.1px;text-align:right">$479</div>
<div class="a" style="left:1142px;top:407px;width:69px;height:17px;background:#cdfecd"></div>
<div class="t b" style="left:1142px;top:407.0px;width:66.1px;text-align:right">$72</div>
<div class="a" style="left:1212px;top:407px;width:75px;height:17px;background:#cdfecd"></div>
<div class="t b" style="left:1212px;top:407.0px;width:72.1px;text-align:right">$866</div>
<div class="t b" style="left:6px;top:426.0px;width:88.0px;text-align:right">401%</div>
<div class="t" style="left:99px;top:426.0px;width:75.0px;text-align:right">$67,809</div>
<div class="a" style="left:178px;top:426px;width:76px;height:17px;background:#f7ee2c"></div>
<div class="t b" style="left:178px;top:426.0px;width:73.1px;text-align:right">$717</div>
<div class="t i" style="left:256px;top:426.0px;width:60.5px;text-align:right">12.69%</div>
<div class="t i" style="left:322px;top:426.0px;width:49px;text-align:center">n/a</div>
<div class="a" style="left:372px;top:426px;width:58px;height:17px;background:#fd98cb"></div>
<div class="t i" style="left:372px;top:426.0px;width:58px;text-align:center">$0</div>
<div class="a" style="left:431px;top:426px;width:57px;height:17px;background:#fffc9c"></div>
<div class="t b" style="left:431px;top:426.0px;width:54.1px;text-align:right">$717</div>
<div class="t" style="left:490px;top:426.0px;width:61.7px;text-align:right">9.77%</div>
<div class="t" style="left:556px;top:426.0px;width:55.0px;text-align:right">$552</div>
<div class="a" style="left:615px;top:426px;width:58px;height:17px;background:#f9c52b"></div>
<div class="t b" style="left:615px;top:426.0px;width:55.1px;text-align:right">$165</div>
<div class="a" style="left:674px;top:426px;width:57px;height:17px;background:#f9c52b"></div>
<div class="t b" style="left:674px;top:426.0px;width:54.1px;text-align:right">$552</div>
<div class="a" style="left:733px;top:426px;width:69px;height:17px;background:#f9c52b"></div>
<div class="t b" style="left:733px;top:426.0px;width:66.1px;text-align:right">$165</div>
<div class="a" style="left:803px;top:426px;width:75px;height:17px;background:#f9c52b"></div>
<div class="t b" style="left:803px;top:426.0px;width:72.1px;text-align:right">$1,979</div>
<div class="t" style="left:880px;top:426.0px;width:61.7px;text-align:right">8.50%</div>
<div class="t" style="left:946px;top:426.0px;width:55.0px;text-align:right">$480</div>
<div class="t" style="left:1005px;top:426.0px;width:55.0px;text-align:right">$237</div>
<div class="a" style="left:1064px;top:426px;width:76px;height:17px;background:#cdfecd"></div>
<div class="t b" style="left:1064px;top:426.0px;width:73.1px;text-align:right">$480</div>
<div class="a" style="left:1142px;top:426px;width:69px;height:17px;background:#cdfecd"></div>
<div class="t b" style="left:1142px;top:426.0px;width:66.1px;text-align:right">$237</div>
<div class="a" style="left:1212px;top:426px;width:75px;height:17px;background:#cdfecd"></div>
<div class="t b" style="left:1212px;top:426.0px;width:72.1px;text-align:right">$2,840</div>
<div class="t" style="left:6px;top:444.0px;width:88.7px;text-align:right">450%</div>
<div class="t" style="left:99px;top:444.0px;width:75.0px;text-align:right">$76,095</div>
<div class="a" style="left:178px;top:444px;width:76px;height:17px;background:#f7ee2c"></div>
<div class="t b" style="left:178px;top:444.0px;width:73.1px;text-align:right">$717</div>
<div class="t i" style="left:256px;top:444.0px;width:60.5px;text-align:right">11.31%</div>
<div class="t i" style="left:322px;top:444.0px;width:49px;text-align:center">n/a</div>
<div class="a" style="left:372px;top:444px;width:58px;height:17px;background:#fd98cb"></div>
<div class="t i" style="left:372px;top:444.0px;width:58px;text-align:center">$0</div>
<div class="a" style="left:431px;top:444px;width:57px;height:17px;background:#fffc9c"></div>
<div class="t b" style="left:431px;top:444.0px;width:54.1px;text-align:right">$717</div>
<div class="t i" style="left:490px;top:444.0px;width:60.5px;text-align:right">11.31%</div>
<div class="t" style="left:556px;top:444.0px;width:55.0px;text-align:right">$717</div>
<div class="a" style="left:615px;top:444px;width:58px;height:17px;background:#fd98cb"></div>
<div class="t i" style="left:615px;top:444.0px;width:58px;text-align:center">$0</div>
<div class="a" style="left:674px;top:444px;width:57px;height:17px;background:#f9c52b"></div>
<div class="t b" style="left:674px;top:444.0px;width:54.1px;text-align:right">$717</div>
<div class="t" style="left:733px;top:444.0px;width:66.0px;text-align:right">$0</div>
<div class="t" style="left:803px;top:444.0px;width:72.0px;text-align:right">$0</div>
<div class="t" style="left:880px;top:444.0px;width:61.7px;text-align:right">8.50%</div>
<div class="t" style="left:946px;top:444.0px;width:55.0px;text-align:right">$539</div>
<div class="t" style="left:1005px;top:444.0px;width:55.0px;text-align:right">$178</div>
<div class="a" style="left:1064px;top:444px;width:76px;height:17px;background:#cdfecd"></div>
<div class="t b" style="left:1064px;top:444.0px;width:73.1px;text-align:right">$539</div>
<div class="a" style="left:1142px;top:444px;width:69px;height:17px;background:#cdfecd"></div>
<div class="t b" style="left:1142px;top:444.0px;width:66.1px;text-align:right">$178</div>
<div class="a" style="left:1212px;top:444px;width:75px;height:17px;background:#cdfecd"></div>
<div class="t b" style="left:1212px;top:444.0px;width:72.1px;text-align:right">$2,136</div>
<div class="t" style="left:6px;top:462.0px;width:88.7px;text-align:right">500%</div>
<div class="t" style="left:99px;top:462.0px;width:75.0px;text-align:right">$84,550</div>
<div class="a" style="left:178px;top:462px;width:76px;height:17px;background:#f7ee2c"></div>
<div class="t b" style="left:178px;top:462.0px;width:73.1px;text-align:right">$717</div>
<div class="t i" style="left:256px;top:462.0px;width:60.5px;text-align:right">10.18%</div>
<div class="t i" style="left:322px;top:462.0px;width:49px;text-align:center">n/a</div>
<div class="a" style="left:372px;top:462px;width:58px;height:17px;background:#fd98cb"></div>
<div class="t i" style="left:372px;top:462.0px;width:58px;text-align:center">$0</div>
<div class="a" style="left:431px;top:462px;width:57px;height:17px;background:#fffc9c"></div>
<div class="t b" style="left:431px;top:462.0px;width:54.1px;text-align:right">$717</div>
<div class="t i" style="left:490px;top:462.0px;width:60.5px;text-align:right">10.18%</div>
<div class="t" style="left:556px;top:462.0px;width:55.0px;text-align:right">$717</div>
<div class="a" style="left:615px;top:462px;width:58px;height:17px;background:#fd98cb"></div>
<div class="t i" style="left:615px;top:462.0px;width:58px;text-align:center">$0</div>
<div class="a" style="left:674px;top:462px;width:57px;height:17px;background:#f9c52b"></div>
<div class="t b" style="left:674px;top:462.0px;width:54.1px;text-align:right">$717</div>
<div class="t" style="left:733px;top:462.0px;width:66.0px;text-align:right">$0</div>
<div class="t" style="left:803px;top:462.0px;width:72.0px;text-align:right">$0</div>
<div class="t" style="left:880px;top:462.0px;width:61.7px;text-align:right">8.50%</div>
<div class="t" style="left:946px;top:462.0px;width:55.0px;text-align:right">$599</div>
<div class="t" style="left:1005px;top:462.0px;width:55.0px;text-align:right">$118</div>
<div class="a" style="left:1064px;top:462px;width:76px;height:17px;background:#cdfecd"></div>
<div class="t b" style="left:1064px;top:462.0px;width:73.1px;text-align:right">$599</div>
<div class="a" style="left:1142px;top:462px;width:69px;height:17px;background:#cdfecd"></div>
<div class="t b" style="left:1142px;top:462.0px;width:66.1px;text-align:right">$118</div>
<div class="a" style="left:1212px;top:462px;width:75px;height:17px;background:#cdfecd"></div>
<div class="t b" style="left:1212px;top:462.0px;width:72.1px;text-align:right">$1,417</div>
<div class="t" style="left:6px;top:480.0px;width:88.7px;text-align:right">550%</div>
<div class="t" style="left:99px;top:480.0px;width:75.0px;text-align:right">$93,005</div>
<div class="a" style="left:178px;top:480px;width:76px;height:17px;background:#f7ee2c"></div>
<div class="t b" style="left:178px;top:480.0px;width:73.1px;text-align:right">$717</div>
<div class="t i" style="left:256px;top:480.0px;width:60.5px;text-align:right">9.25%</div>
<div class="t i" style="left:322px;top:480.0px;width:49px;text-align:center">n/a</div>
<div class="a" style="left:372px;top:480px;width:58px;height:17px;background:#fd98cb"></div>
<div class="t i" style="left:372px;top:480.0px;width:58px;text-align:center">$0</div>
<div class="a" style="left:431px;top:480px;width:57px;height:17px;background:#fffc9c"></div>
<div class="t b" style="left:431px;top:480.0px;width:54.1px;text-align:right">$717</div>
<div class="t i" style="left:490px;top:480.0px;width:60.5px;text-align:right">9.25%</div>
<div class="t" style="left:556px;top:480.0px;width:55.0px;text-align:right">$717</div>
<div class="a" style="left:615px;top:480px;width:58px;height:17px;background:#fd98cb"></div>
<div class="t i" style="left:615px;top:480.0px;width:58px;text-align:center">$0</div>
<div class="a" style="left:674px;top:480px;width:57px;height:17px;background:#f9c52b"></div>
<div class="t b" style="left:674px;top:480.0px;width:54.1px;text-align:right">$717</div>
<div class="t" style="left:733px;top:480.0px;width:66.0px;text-align:right">$0</div>
<div class="t" style="left:803px;top:480.0px;width:72.0px;text-align:right">$0</div>
<div class="t" style="left:880px;top:480.0px;width:61.7px;text-align:right">8.50%</div>
<div class="t" style="left:946px;top:480.0px;width:55.0px;text-align:right">$659</div>
<div class="t" style="left:1005px;top:480.0px;width:55.0px;text-align:right">$58</div>
<div class="a" style="left:1064px;top:480px;width:76px;height:17px;background:#cdfecd"></div>
<div class="t b" style="left:1064px;top:480.0px;width:73.1px;text-align:right">$659</div>
<div class="a" style="left:1142px;top:480px;width:69px;height:17px;background:#cdfecd"></div>
<div class="t b" style="left:1142px;top:480.0px;width:66.1px;text-align:right">$58</div>
<div class="a" style="left:1212px;top:480px;width:75px;height:17px;background:#cdfecd"></div>
<div class="t b" style="left:1212px;top:480.0px;width:72.1px;text-align:right">$699</div>
<div class="t" style="left:6px;top:498.0px;width:88.7px;text-align:right">600%</div>
<div class="t" style="left:99px;top:498.0px;width:75.0px;text-align:right">$101,460</div>
<div class="a" style="left:178px;top:498px;width:76px;height:17px;background:#f7ee2c"></div>
<div class="t b" style="left:178px;top:498.0px;width:73.1px;text-align:right">$717</div>
<div class="t i" style="left:256px;top:498.0px;width:60.5px;text-align:right">8.48%</div>
<div class="t i" style="left:322px;top:498.0px;width:49px;text-align:center">n/a</div>
<div class="a" style="left:372px;top:498px;width:58px;height:17px;background:#fd98cb"></div>
<div class="t i" style="left:372px;top:498.0px;width:58px;text-align:center">$0</div>
<div class="a" style="left:431px;top:498px;width:57px;height:17px;background:#fffc9c"></div>
<div class="t b" style="left:431px;top:498.0px;width:54.1px;text-align:right">$717</div>
<div class="t i" style="left:490px;top:498.0px;width:60.5px;text-align:right">8.48%</div>
<div class="t" style="left:556px;top:498.0px;width:55.0px;text-align:right">$717</div>
<div class="a" style="left:615px;top:498px;width:58px;height:17px;background:#fd98cb"></div>
<div class="t i" style="left:615px;top:498.0px;width:58px;text-align:center">$0</div>
<div class="a" style="left:674px;top:498px;width:57px;height:17px;background:#f9c52b"></div>
<div class="t b" style="left:674px;top:498.0px;width:54.1px;text-align:right">$717</div>
<div class="t" style="left:733px;top:498.0px;width:66.0px;text-align:right">$0</div>
<div class="t" style="left:803px;top:498.0px;width:72.0px;text-align:right">$0</div>
<div class="t i" style="left:880px;top:498.0px;width:60.5px;text-align:right">8.48%</div>
<div class="t" style="left:946px;top:498.0px;width:55.0px;text-align:right">$717</div>
<div class="a" style="left:1005px;top:498px;width:58px;height:17px;background:#fd98cb"></div>
<div class="t i" style="left:1005px;top:498.0px;width:58px;text-align:center">$0</div>
<div class="a" style="left:1064px;top:498px;width:76px;height:17px;background:#cdfecd"></div>
<div class="t b" style="left:1064px;top:498.0px;width:73.1px;text-align:right">$717</div>
<div class="t" style="left:1142px;top:498.0px;width:66.0px;text-align:right">$0</div>
<div class="t" style="left:1212px;top:498.0px;width:72.0px;text-align:right">$0</div>
<div class="t b" style="left:6px;top:517.0px;width:88.0px;text-align:right">601%</div>
<div class="t" style="left:99px;top:517.0px;width:75.0px;text-align:right">$101,629</div>
<div class="a" style="left:178px;top:517px;width:76px;height:17px;background:#f7ee2c"></div>
<div class="t b" style="left:178px;top:517.0px;width:73.1px;text-align:right">$717</div>
<div class="t i" style="left:256px;top:517.0px;width:60.5px;text-align:right">8.47%</div>
<div class="t i" style="left:322px;top:517.0px;width:49px;text-align:center">n/a</div>
<div class="a" style="left:372px;top:517px;width:58px;height:17px;background:#fd98cb"></div>
<div class="t i" style="left:372px;top:517.0px;width:58px;text-align:center">$0</div>
<div class="a" style="left:431px;top:517px;width:57px;height:17px;background:#fffc9c"></div>
<div class="t b" style="left:431px;top:517.0px;width:54.1px;text-align:right">$717</div>
<div class="t i" style="left:490px;top:517.0px;width:60.5px;text-align:right">8.47%</div>
<div class="t" style="left:556px;top:517.0px;width:55.0px;text-align:right">$717</div>
<div class="a" style="left:615px;top:517px;width:58px;height:17px;background:#fd98cb"></div>
<div class="t i" style="left:615px;top:517.0px;width:58px;text-align:center">$0</div>
<div class="a" style="left:674px;top:517px;width:57px;height:17px;background:#f9c52b"></div>
<div class="t b" style="left:674px;top:517.0px;width:54.1px;text-align:right">$717</div>
<div class="t" style="left:733px;top:517.0px;width:66.0px;text-align:right">$0</div>
<div class="t" style="left:803px;top:517.0px;width:72.0px;text-align:right">$0</div>
<div class="t i" style="left:880px;top:517.0px;width:60.5px;text-align:right">8.47%</div>
<div class="t" style="left:946px;top:517.0px;width:55.0px;text-align:right">$717</div>
<div class="a" style="left:1005px;top:517px;width:58px;height:17px;background:#fd98cb"></div>
<div class="t i" style="left:1005px;top:517.0px;width:58px;text-align:center">$0</div>
<div class="a" style="left:1064px;top:517px;width:76px;height:17px;background:#cdfecd"></div>
<div class="t b" style="left:1064px;top:517.0px;width:73.1px;text-align:right">$717</div>
<div class="t" style="left:1142px;top:517.0px;width:66.0px;text-align:right">$0</div>
<div class="t" style="left:1212px;top:517.0px;width:72.0px;text-align:right">$0</div>
<div class="t" style="left:6px;top:535.0px;width:88.7px;text-align:right">650%</div>
<div class="t" style="left:99px;top:535.0px;width:75.0px;text-align:right">$109,915</div>
<div class="a" style="left:178px;top:535px;width:76px;height:17px;background:#f7ee2c"></div>
<div class="t b" style="left:178px;top:535.0px;width:73.1px;text-align:right">$717</div>
<div class="t i" style="left:256px;top:535.0px;width:60.5px;text-align:right">7.83%</div>
<div class="t i" style="left:322px;top:535.0px;width:49px;text-align:center">n/a</div>
<div class="a" style="left:372px;top:535px;width:58px;height:17px;background:#fd98cb"></div>
<div class="t i" style="left:372px;top:535.0px;width:58px;text-align:center">$0</div>
<div class="a" style="left:431px;top:535px;width:57px;height:17px;background:#fffc9c"></div>
<div class="t b" style="left:431px;top:535.0px;width:54.1px;text-align:right">$717</div>
<div class="t i" style="left:490px;top:535.0px;width:60.5px;text-align:right">7.83%</div>
<div class="t" style="left:556px;top:535.0px;width:55.0px;text-align:right">$717</div>
<div class="a" style="left:615px;top:535px;width:58px;height:17px;background:#fd98cb"></div>
<div class="t i" style="left:615px;top:535.0px;width:58px;text-align:center">$0</div>
<div class="a" style="left:674px;top:535px;width:57px;height:17px;background:#f9c52b"></div>
<div class="t b" style="left:674px;top:535.0px;width:54.1px;text-align:right">$717</div>
<div class="t" style="left:733px;top:535.0px;width:66.0px;text-align:right">$0</div>
<div class="t" style="left:803px;top:535.0px;width:72.0px;text-align:right">$0</div>
<div class="t i" style="left:880px;top:535.0px;width:60.5px;text-align:right">7.83%</div>
<div class="t" style="left:946px;top:535.0px;width:55.0px;text-align:right">$717</div>
<div class="a" style="left:1005px;top:535px;width:58px;height:17px;background:#fd98cb"></div>
<div class="t i" style="left:1005px;top:535.0px;width:58px;text-align:center">$0</div>
<div class="a" style="left:1064px;top:535px;width:76px;height:17px;background:#cdfecd"></div>
<div class="t b" style="left:1064px;top:535.0px;width:73.1px;text-align:right">$717</div>
<div class="t" style="left:1142px;top:535.0px;width:66.0px;text-align:right">$0</div>
<div class="t" style="left:1212px;top:535.0px;width:72.0px;text-align:right">$0</div>
<div class="t" style="left:6px;top:553.0px;width:88.7px;text-align:right">700%</div>
<div class="t" style="left:99px;top:553.0px;width:75.0px;text-align:right">$118,370</div>
<div class="a" style="left:178px;top:553px;width:76px;height:17px;background:#f7ee2c"></div>
<div class="t b" style="left:178px;top:553.0px;width:73.1px;text-align:right">$717</div>
<div class="t i" style="left:256px;top:553.0px;width:60.5px;text-align:right">7.27%</div>
<div class="t i" style="left:322px;top:553.0px;width:49px;text-align:center">n/a</div>
<div class="a" style="left:372px;top:553px;width:58px;height:17px;background:#fd98cb"></div>
<div class="t i" style="left:372px;top:553.0px;width:58px;text-align:center">$0</div>
<div class="a" style="left:431px;top:553px;width:57px;height:17px;background:#fffc9c"></div>
<div class="t b" style="left:431px;top:553.0px;width:54.1px;text-align:right">$717</div>
<div class="t i" style="left:490px;top:553.0px;width:60.5px;text-align:right">7.27%</div>
<div class="t" style="left:556px;top:553.0px;width:55.0px;text-align:right">$717</div>
<div class="a" style="left:615px;top:553px;width:58px;height:17px;background:#fd98cb"></div>
<div class="t i" style="left:615px;top:553.0px;width:58px;text-align:center">$0</div>
<div class="a" style="left:674px;top:553px;width:57px;height:17px;background:#f9c52b"></div>
<div class="t b" style="left:674px;top:553.0px;width:54.1px;text-align:right">$717</div>
<div class="t" style="left:733px;top:553.0px;width:66.0px;text-align:right">$0</div>
<div class="t" style="left:803px;top:553.0px;width:72.0px;text-align:right">$0</div>
<div class="t i" style="left:880px;top:553.0px;width:60.5px;text-align:right">7.27%</div>
<div class="t" style="left:946px;top:553.0px;width:55.0px;text-align:right">$717</div>
<div class="a" style="left:1005px;top:553px;width:58px;height:17px;background:#fd98cb"></div>
<div class="t i" style="left:1005px;top:553.0px;width:58px;text-align:center">$0</div>
<div class="a" style="left:1064px;top:553px;width:76px;height:17px;background:#cdfecd"></div>
<div class="t b" style="left:1064px;top:553.0px;width:73.1px;text-align:right">$717</div>
<div class="t" style="left:1142px;top:553.0px;width:66.0px;text-align:right">$0</div>
<div class="t" style="left:1212px;top:553.0px;width:72.0px;text-align:right">$0</div>
<div class="t" style="left:6px;top:571.0px;width:88.7px;text-align:right">750%</div>
<div class="t" style="left:99px;top:571.0px;width:75.0px;text-align:right">$126,825</div>
<div class="a" style="left:178px;top:571px;width:76px;height:17px;background:#f7ee2c"></div>
<div class="t b" style="left:178px;top:571.0px;width:73.1px;text-align:right">$717</div>
<div class="t i" style="left:256px;top:571.0px;width:60.5px;text-align:right">6.78%</div>
<div class="t i" style="left:322px;top:571.0px;width:49px;text-align:center">n/a</div>
<div class="a" style="left:372px;top:571px;width:58px;height:17px;background:#fd98cb"></div>
<div class="t i" style="left:372px;top:571.0px;width:58px;text-align:center">$0</div>
<div class="a" style="left:431px;top:571px;width:57px;height:17px;background:#fffc9c"></div>
<div class="t b" style="left:431px;top:571.0px;width:54.1px;text-align:right">$717</div>
<div class="t i" style="left:490px;top:571.0px;width:60.5px;text-align:right">6.78%</div>
<div class="t" style="left:556px;top:571.0px;width:55.0px;text-align:right">$717</div>
<div class="a" style="left:615px;top:571px;width:58px;height:17px;background:#fd98cb"></div>
<div class="t i" style="left:615px;top:571.0px;width:58px;text-align:center">$0</div>
<div class="a" style="left:674px;top:571px;width:57px;height:17px;background:#f9c52b"></div>
<div class="t b" style="left:674px;top:571.0px;width:54.1px;text-align:right">$717</div>
<div class="t" style="left:733px;top:571.0px;width:66.0px;text-align:right">$0</div>
<div class="t" style="left:803px;top:571.0px;width:72.0px;text-align:right">$0</div>
<div class="t i" style="left:880px;top:571.0px;width:60.5px;text-align:right">6.78%</div>
<div class="t" style="left:946px;top:571.0px;width:55.0px;text-align:right">$717</div>
<div class="a" style="left:1005px;top:571px;width:58px;height:17px;background:#fd98cb"></div>
<div class="t i" style="left:1005px;top:571.0px;width:58px;text-align:center">$0</div>
<div class="a" style="left:1064px;top:571px;width:76px;height:17px;background:#cdfecd"></div>
<div class="t b" style="left:1064px;top:571.0px;width:73.1px;text-align:right">$717</div>
<div class="t" style="left:1142px;top:571.0px;width:66.0px;text-align:right">$0</div>
<div class="t" style="left:1212px;top:571.0px;width:72.0px;text-align:right">$0</div>
<div class="t" style="left:6px;top:589.0px;width:88.7px;text-align:right">800%</div>
<div class="t" style="left:99px;top:589.0px;width:75.0px;text-align:right">$135,280</div>
<div class="a" style="left:178px;top:589px;width:76px;height:17px;background:#f7ee2c"></div>
<div class="t b" style="left:178px;top:589.0px;width:73.1px;text-align:right">$717</div>
<div class="t i" style="left:256px;top:589.0px;width:60.5px;text-align:right">6.36%</div>
<div class="t i" style="left:322px;top:589.0px;width:49px;text-align:center">n/a</div>
<div class="a" style="left:372px;top:589px;width:58px;height:17px;background:#fd98cb"></div>
<div class="t i" style="left:372px;top:589.0px;width:58px;text-align:center">$0</div>
<div class="a" style="left:431px;top:589px;width:57px;height:17px;background:#fffc9c"></div>
<div class="t b" style="left:431px;top:589.0px;width:54.1px;text-align:right">$717</div>
<div class="t i" style="left:490px;top:589.0px;width:60.5px;text-align:right">6.36%</div>
<div class="t" style="left:556px;top:589.0px;width:55.0px;text-align:right">$717</div>
<div class="a" style="left:615px;top:589px;width:58px;height:17px;background:#fd98cb"></div>
<div class="t i" style="left:615px;top:589.0px;width:58px;text-align:center">$0</div>
<div class="a" style="left:674px;top:589px;width:57px;height:17px;background:#f9c52b"></div>
<div class="t b" style="left:674px;top:589.0px;width:54.1px;text-align:right">$717</div>
<div class="t" style="left:733px;top:589.0px;width:66.0px;text-align:right">$0</div>
<div class="t" style="left:803px;top:589.0px;width:72.0px;text-align:right">$0</div>
<div class="t i" style="left:880px;top:589.0px;width:60.5px;text-align:right">6.36%</div>
<div class="t" style="left:946px;top:589.0px;width:55.0px;text-align:right">$717</div>
<div class="a" style="left:1005px;top:589px;width:58px;height:17px;background:#fd98cb"></div>
<div class="t i" style="left:1005px;top:589.0px;width:58px;text-align:center">$0</div>
<div class="a" style="left:1064px;top:589px;width:76px;height:17px;background:#cdfecd"></div>
<div class="t b" style="left:1064px;top:589.0px;width:73.1px;text-align:right">$717</div>
<div class="t" style="left:1142px;top:589.0px;width:66.0px;text-align:right">$0</div>
<div class="t" style="left:1212px;top:589.0px;width:72.0px;text-align:right">$0</div>
<div class="t" style="left:6px;top:607.0px;width:88.7px;text-align:right">850%</div>
<div class="t" style="left:99px;top:607.0px;width:75.0px;text-align:right">$143,735</div>
<div class="a" style="left:178px;top:607px;width:76px;height:17px;background:#f7ee2c"></div>
<div class="t b" style="left:178px;top:607.0px;width:73.1px;text-align:right">$717</div>
<div class="t i" style="left:256px;top:607.0px;width:60.5px;text-align:right">5.99%</div>
<div class="t i" style="left:322px;top:607.0px;width:49px;text-align:center">n/a</div>
<div class="a" style="left:372px;top:607px;width:58px;height:17px;background:#fd98cb"></div>
<div class="t i" style="left:372px;top:607.0px;width:58px;text-align:center">$0</div>
<div class="a" style="left:431px;top:607px;width:57px;height:17px;background:#fffc9c"></div>
<div class="t b" style="left:431px;top:607.0px;width:54.1px;text-align:right">$717</div>
<div class="t i" style="left:490px;top:607.0px;width:60.5px;text-align:right">5.99%</div>
<div class="t" style="left:556px;top:607.0px;width:55.0px;text-align:right">$717</div>
<div class="a" style="left:615px;top:607px;width:58px;height:17px;background:#fd98cb"></div>
<div class="t i" style="left:615px;top:607.0px;width:58px;text-align:center">$0</div>
<div class="a" style="left:674px;top:607px;width:57px;height:17px;background:#f9c52b"></div>
<div class="t b" style="left:674px;top:607.0px;width:54.1px;text-align:right">$717</div>
<div class="t" style="left:733px;top:607.0px;width:66.0px;text-align:right">$0</div>
<div class="t" style="left:803px;top:607.0px;width:72.0px;text-align:right">$0</div>
<div class="t i" style="left:880px;top:607.0px;width:60.5px;text-align:right">5.99%</div>
<div class="t" style="left:946px;top:607.0px;width:55.0px;text-align:right">$717</div>
<div class="a" style="left:1005px;top:607px;width:58px;height:17px;background:#fd98cb"></div>
<div class="t i" style="left:1005px;top:607.0px;width:58px;text-align:center">$0</div>
<div class="a" style="left:1064px;top:607px;width:76px;height:17px;background:#cdfecd"></div>
<div class="t b" style="left:1064px;top:607.0px;width:73.1px;text-align:right">$717</div>
<div class="t" style="left:1142px;top:607.0px;width:66.0px;text-align:right">$0</div>
<div class="t" style="left:1212px;top:607.0px;width:72.0px;text-align:right">$0</div>
<div class="t" style="left:6px;top:625.0px;width:88.7px;text-align:right">900%</div>
<div class="t" style="left:99px;top:625.0px;width:75.0px;text-align:right">$152,190</div>
<div class="a" style="left:178px;top:625px;width:76px;height:17px;background:#f7ee2c"></div>
<div class="t b" style="left:178px;top:625.0px;width:73.1px;text-align:right">$717</div>
<div class="t i" style="left:256px;top:625.0px;width:60.5px;text-align:right">5.65%</div>
<div class="t i" style="left:322px;top:625.0px;width:49px;text-align:center">n/a</div>
<div class="a" style="left:372px;top:625px;width:58px;height:17px;background:#fd98cb"></div>
<div class="t i" style="left:372px;top:625.0px;width:58px;text-align:center">$0</div>
<div class="a" style="left:431px;top:625px;width:57px;height:17px;background:#fffc9c"></div>
<div class="t b" style="left:431px;top:625.0px;width:54.1px;text-align:right">$717</div>
<div class="t i" style="left:490px;top:625.0px;width:60.5px;text-align:right">5.65%</div>
<div class="t" style="left:556px;top:625.0px;width:55.0px;text-align:right">$717</div>
<div class="a" style="left:615px;top:625px;width:58px;height:17px;background:#fd98cb"></div>
<div class="t i" style="left:615px;top:625.0px;width:58px;text-align:center">$0</div>
<div class="a" style="left:674px;top:625px;width:57px;height:17px;background:#f9c52b"></div>
<div class="t b" style="left:674px;top:625.0px;width:54.1px;text-align:right">$717</div>
<div class="t" style="left:733px;top:625.0px;width:66.0px;text-align:right">$0</div>
<div class="t" style="left:803px;top:625.0px;width:72.0px;text-align:right">$0</div>
<div class="t i" style="left:880px;top:625.0px;width:60.5px;text-align:right">5.65%</div>
<div class="t" style="left:946px;top:625.0px;width:55.0px;text-align:right">$717</div>
<div class="a" style="left:1005px;top:625px;width:58px;height:17px;background:#fd98cb"></div>
<div class="t i" style="left:1005px;top:625.0px;width:58px;text-align:center">$0</div>
<div class="a" style="left:1064px;top:625px;width:76px;height:17px;background:#cdfecd"></div>
<div class="t b" style="left:1064px;top:625.0px;width:73.1px;text-align:right">$717</div>
<div class="t" style="left:1142px;top:625.0px;width:66.0px;text-align:right">$0</div>
<div class="t" style="left:1212px;top:625.0px;width:72.0px;text-align:right">$0</div>
<div class="t" style="left:6px;top:643.0px;width:88.7px;text-align:right">950%</div>
<div class="t" style="left:99px;top:643.0px;width:75.0px;text-align:right">$160,645</div>
<div class="a" style="left:178px;top:643px;width:76px;height:17px;background:#f7ee2c"></div>
<div class="t b" style="left:178px;top:643.0px;width:73.1px;text-align:right">$717</div>
<div class="t i" style="left:256px;top:643.0px;width:60.5px;text-align:right">5.36%</div>
<div class="t i" style="left:322px;top:643.0px;width:49px;text-align:center">n/a</div>
<div class="a" style="left:372px;top:643px;width:58px;height:17px;background:#fd98cb"></div>
<div class="t i" style="left:372px;top:643.0px;width:58px;text-align:center">$0</div>
<div class="a" style="left:431px;top:643px;width:57px;height:17px;background:#fffc9c"></div>
<div class="t b" style="left:431px;top:643.0px;width:54.1px;text-align:right">$717</div>
<div class="t i" style="left:490px;top:643.0px;width:60.5px;text-align:right">5.36%</div>
<div class="t" style="left:556px;top:643.0px;width:55.0px;text-align:right">$717</div>
<div class="a" style="left:615px;top:643px;width:58px;height:17px;background:#fd98cb"></div>
<div class="t i" style="left:615px;top:643.0px;width:58px;text-align:center">$0</div>
<div class="a" style="left:674px;top:643px;width:57px;height:17px;background:#f9c52b"></div>
<div class="t b" style="left:674px;top:643.0px;width:54.1px;text-align:right">$717</div>
<div class="t" style="left:733px;top:643.0px;width:66.0px;text-align:right">$0</div>
<div class="t" style="left:803px;top:643.0px;width:72.0px;text-align:right">$0</div>
<div class="t i" style="left:880px;top:643.0px;width:60.5px;text-align:right">5.36%</div>
<div class="t" style="left:946px;top:643.0px;width:55.0px;text-align:right">$717</div>
<div class="a" style="left:1005px;top:643px;width:58px;height:17px;background:#fd98cb"></div>
<div class="t i" style="left:1005px;top:643.0px;width:58px;text-align:center">$0</div>
<div class="a" style="left:1064px;top:643px;width:76px;height:17px;background:#cdfecd"></div>
<div class="t b" style="left:1064px;top:643.0px;width:73.1px;text-align:right">$717</div>
<div class="t" style="left:1142px;top:643.0px;width:66.0px;text-align:right">$0</div>
<div class="t" style="left:1212px;top:643.0px;width:72.0px;text-align:right">$0</div>
<div class="t" style="left:6px;top:661.0px;width:88.7px;text-align:right">1000%</div>
<div class="t" style="left:99px;top:661.0px;width:75.0px;text-align:right">$169,100</div>
<div class="a" style="left:178px;top:661px;width:76px;height:17px;background:#f7ee2c"></div>
<div class="t b" style="left:178px;top:661.0px;width:73.1px;text-align:right">$717</div>
<div class="t i" style="left:256px;top:661.0px;width:60.5px;text-align:right">5.09%</div>
<div class="t i" style="left:322px;top:661.0px;width:49px;text-align:center">n/a</div>
<div class="a" style="left:372px;top:661px;width:58px;height:17px;background:#fd98cb"></div>
<div class="t i" style="left:372px;top:661.0px;width:58px;text-align:center">$0</div>
<div class="a" style="left:431px;top:661px;width:57px;height:17px;background:#fffc9c"></div>
<div class="t b" style="left:431px;top:661.0px;width:54.1px;text-align:right">$717</div>
<div class="t i" style="left:490px;top:661.0px;width:60.5px;text-align:right">5.09%</div>
<div class="t" style="left:556px;top:661.0px;width:55.0px;text-align:right">$717</div>
<div class="a" style="left:615px;top:661px;width:58px;height:17px;background:#fd98cb"></div>
<div class="t i" style="left:615px;top:661.0px;width:58px;text-align:center">$0</div>
<div class="a" style="left:674px;top:661px;width:57px;height:17px;background:#f9c52b"></div>
<div class="t b" style="left:674px;top:661.0px;width:54.1px;text-align:right">$717</div>
<div class="t" style="left:733px;top:661.0px;width:66.0px;text-align:right">$0</div>
<div class="t" style="left:803px;top:661.0px;width:72.0px;text-align:right">$0</div>
<div class="t i" style="left:880px;top:661.0px;width:60.5px;text-align:right">5.09%</div>
<div class="t" style="left:946px;top:661.0px;width:55.0px;text-align:right">$717</div>
<div class="a" style="left:1005px;top:661px;width:58px;height:17px;background:#fd98cb"></div>
<div class="t i" style="left:1005px;top:661.0px;width:58px;text-align:center">$0</div>
<div class="a" style="left:1064px;top:661px;width:76px;height:17px;background:#cdfecd"></div>
<div class="t b" style="left:1064px;top:661.0px;width:73.1px;text-align:right">$717</div>
<div class="t" style="left:1142px;top:661.0px;width:66.0px;text-align:right">$0</div>
<div class="t" style="left:1212px;top:661.0px;width:72.0px;text-align:right">$0</div>
<div class="l" style="left:4px;top:4px;width:2px;height:676px"></div>
<div class="l" style="left:98px;top:131px;width:1px;height:549px"></div>
<div class="l" style="left:177px;top:131px;width:1px;height:549px"></div>
<div class="l" style="left:254px;top:76px;width:2px;height:604px"></div>
<div class="l" style="left:321px;top:131px;width:1px;height:549px"></div>
<div class="l" style="left:371px;top:131px;width:1px;height:549px"></div>
<div class="l" style="left:430px;top:131px;width:1px;height:549px"></div>
<div class="l" style="left:488px;top:76px;width:2px;height:604px"></div>
<div class="l" style="left:555px;top:131px;width:1px;height:549px"></div>
<div class="l" style="left:614px;top:131px;width:1px;height:549px"></div>
<div class="l" style="left:673px;top:131px;width:1px;height:549px"></div>
<div class="l" style="left:731px;top:76px;width:2px;height:604px"></div>
<div class="l" style="left:802px;top:131px;width:1px;height:549px"></div>
<div class="l" style="left:878px;top:76px;width:2px;height:604px"></div>
<div class="l" style="left:945px;top:131px;width:1px;height:549px"></div>
<div class="l" style="left:1004px;top:131px;width:1px;height:549px"></div>
<div class="l" style="left:1063px;top:131px;width:1px;height:549px"></div>
<div class="l" style="left:1140px;top:76px;width:2px;height:604px"></div>
<div class="l" style="left:1211px;top:131px;width:1px;height:549px"></div>
<div class="l" style="left:1287px;top:76px;width:2px;height:604px"></div>
<div class="l" style="left:1421px;top:4px;width:2px;height:676px"></div>
<div class="l" style="left:4px;top:4px;width:1419px;height:2px"></div>
<div class="l" style="left:4px;top:76px;width:1419px;height:2px"></div>
<div class="l" style="left:4px;top:131px;width:1285px;height:2px"></div>
<div class="l" style="left:4px;top:186px;width:1419px;height:2px"></div>
<div class="l" style="left:4px;top:205px;width:1419px;height:1px"></div>
<div class="l" style="left:4px;top:224px;width:1419px;height:1px"></div>
<div class="l" style="left:4px;top:243px;width:1419px;height:1px"></div>
<div class="l" style="left:4px;top:261px;width:1419px;height:1px"></div>
<div class="l" style="left:4px;top:279px;width:1419px;height:1px"></div>
<div class="l" style="left:4px;top:297px;width:1419px;height:2px"></div>
<div class="l" style="left:4px;top:316px;width:1419px;height:1px"></div>
<div class="l" style="left:4px;top:334px;width:1419px;height:1px"></div>
<div class="l" style="left:4px;top:352px;width:1419px;height:1px"></div>
<div class="l" style="left:4px;top:370px;width:1419px;height:1px"></div>
<div class="l" style="left:4px;top:388px;width:1419px;height:1px"></div>
<div class="l" style="left:4px;top:406px;width:1419px;height:1px"></div>
<div class="l" style="left:4px;top:424px;width:1419px;height:2px"></div>
<div class="l" style="left:4px;top:443px;width:1419px;height:1px"></div>
<div class="l" style="left:4px;top:461px;width:1419px;height:1px"></div>
<div class="l" style="left:4px;top:479px;width:1419px;height:1px"></div>
<div class="l" style="left:4px;top:497px;width:1419px;height:1px"></div>
<div class="l" style="left:4px;top:515px;width:1419px;height:2px"></div>
<div class="l" style="left:4px;top:534px;width:1419px;height:1px"></div>
<div class="l" style="left:4px;top:552px;width:1419px;height:1px"></div>
<div class="l" style="left:4px;top:570px;width:1419px;height:1px"></div>
<div class="l" style="left:4px;top:588px;width:1419px;height:1px"></div>
<div class="l" style="left:4px;top:606px;width:1419px;height:1px"></div>
<div class="l" style="left:4px;top:624px;width:1419px;height:1px"></div>
<div class="l" style="left:4px;top:642px;width:1419px;height:1px"></div>
<div class="l" style="left:4px;top:660px;width:1419px;height:1px"></div>
<div class="l" style="left:4px;top:678px;width:1419px;height:2px"></div>
</body></html>
